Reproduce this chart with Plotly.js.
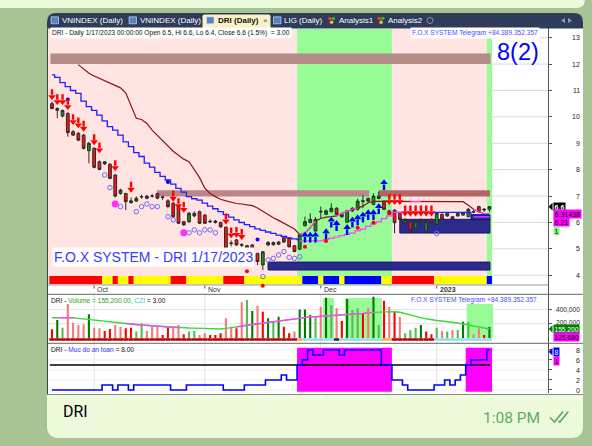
<!DOCTYPE html>
<html>
<head>
<meta charset="utf-8">
<script src="https://cdn.plot.ly/plotly-3.0.1.min.js"></script>
<style>
html,body{margin:0;padding:0;overflow:hidden;background:#a9c494;}
#chart{width:592px;height:446px;}
</style>
</head>
<body>
<div id="chart"></div>
<script>
// ================= DATA =================
const tickerName = 'DRI';
const lastDate = '1/17/2023';
const monthTickBars = [8, 29, 51, 73];
const monthTickLabels = ['Oct', 'Nov', 'Dec', '2023'];
const priceTicks = [4, 5, 6, 7, 8, 9, 10, 11, 12, 13];
const volTicks = [200000, 400000];
const volTickLabels = ['200,000', '400,000'];
const safetyTicks = [0, 2, 4, 6, 8];

const opens = [10.50,10.25,10.03,10.13,9.44,9.38,9.31,8.72,8.81,8.30,
  8.22,8.20,7.80,7.10,7.10,6.75,6.81,6.97,7.00,7.00,
  7.10,6.95,6.82,6.73,6.60,6.03,6.03,6.35,6.41,6.28,
  6.05,6.00,6.00,5.82,5.20,5.34,5.16,5.02,5.15,4.83,
  4.39,5.15,5.16,5.18,5.42,5.40,5.12,4.99,5.88,6.00,
  5.68,6.40,6.31,6.41,6.54,6.31,6.01,6.44,6.50,6.80,
  6.91,6.69,6.91,6.81,6.44,6.47,6.35,5.99,6.03,5.78,
  6.03,5.69,6.12,5.93,6.31,6.25,6.22,6.25,6.28,6.22,
  6.40,6.60,6.47,6.50];
const highs = [10.58,10.36,10.28,10.18,9.50,9.42,9.35,9.05,8.85,8.35,
  8.33,8.25,7.82,7.28,7.12,6.95,6.98,7.05,7.03,7.08,
  7.12,7.02,6.88,6.78,6.65,6.06,6.40,6.42,6.45,6.32,
  6.12,6.10,6.03,5.85,5.32,5.38,5.22,5.15,5.18,4.85,
  4.92,5.30,5.28,5.30,5.46,5.44,5.15,5.56,6.22,6.35,
  6.20,6.60,6.50,6.73,6.58,6.35,6.48,6.58,6.90,7.04,
  6.95,7.10,7.17,6.85,6.48,6.50,6.38,6.15,6.06,6.06,
  6.15,6.06,6.15,6.38,6.34,6.38,6.25,6.38,6.40,6.55,
  6.50,6.63,6.55,6.60];
const lows = [10.28,9.95,9.98,9.25,9.28,9.08,8.76,8.24,8.05,7.98,
  8.18,7.64,6.95,7.05,6.47,6.72,6.78,6.90,6.88,6.95,
  6.88,6.85,6.56,6.18,5.94,5.88,5.98,6.20,5.94,5.95,
  5.98,5.96,5.80,4.99,5.10,5.12,5.08,4.98,4.80,4.39,
  4.20,5.10,5.12,5.14,5.24,5.05,4.87,4.95,5.85,5.97,
  5.65,6.16,6.28,6.38,6.28,6.18,5.98,6.40,6.45,6.54,
  6.78,6.65,6.88,6.47,6.28,5.59,6.08,5.96,5.66,5.75,
  6.00,5.66,5.96,5.90,6.09,6.22,6.09,6.22,6.25,6.20,
  6.35,6.38,6.40,6.40];
const closes = [10.32,10.32,10.24,9.40,9.31,9.12,8.81,9.00,8.09,8.01,
  8.30,7.67,7.00,7.23,6.79,6.82,6.92,6.98,6.92,7.00,
  6.92,6.96,6.60,6.22,5.97,5.91,6.35,6.25,5.97,5.97,
  6.03,6.05,5.84,5.02,5.22,5.15,5.14,5.12,4.83,4.52,
  4.89,5.24,5.24,5.26,5.26,5.08,4.90,5.53,6.03,6.12,
  6.12,6.42,6.44,6.54,6.31,6.22,6.44,6.54,6.81,6.82,
  6.81,7.00,7.00,6.50,6.31,5.99,6.12,6.12,5.69,6.03,
  6.12,6.03,5.99,6.35,6.12,6.35,6.12,6.35,6.38,6.50,
  6.40,6.41,6.50,6.60];

// trailing resistance (blue staircase)
const blueStep = [11.59,11.50,11.30,11.15,11.00,10.89,10.60,10.39,10.25,10.07,
  9.85,9.63,9.50,9.31,9.05,8.87,8.65,8.50,8.25,8.10,
  7.90,7.75,7.61,7.45,7.29,7.15,6.98,6.90,6.85,6.73,
  6.62,6.52,6.41,6.30,6.20,6.10,6.00,5.92,5.84,5.76,
  5.70,5.64,5.59,5.52,5.47,5.42,5.38,5.35,null,null,
  null,null,null,null,null,null,null,null,null,null,
  null,null,null,null,null,6.38,6.38,6.38,6.38,6.38,
  6.38,6.38,6.38,6.38,6.38,6.38,6.38,6.38,6.38,6.38,
  6.30,6.30,6.30,6.30];
// dark red moving line
const upperMA = [null,null,null,null,null,11.98,11.80,11.65,11.55,11.46,
  11.35,11.27,11.20,11.10,10.90,10.40,9.95,9.90,9.75,9.50,
  9.30,9.06,8.90,8.70,8.55,8.40,8.30,8.00,7.70,7.30,
  7.10,6.98,6.88,6.82,6.76,6.72,6.70,6.68,6.64,6.55,
  6.42,6.30,6.18,6.08,5.98,5.88,5.75,5.55,5.60,5.80,
  6.05,6.15,6.20,6.22,6.25,6.35,6.42,6.50,6.55,6.62,
  6.75,6.80,6.80,6.80,6.79,6.79,6.79,6.79,6.79,6.79,
  6.79,6.79,6.79,6.79,6.79,6.79,6.79,6.79,6.79,6.65,
  6.50,6.40,6.33,6.31438];
const upperMaMagentaRuns = [[47, 50], [54, 58], [68, 70], [80, 83]];
// magenta support line
const supportBars = [47,48,49,50,51,52,53,54,55,56,57,58,59,60,61,62,63,64,65,66,67,68,69,70,71,72];
const supportVals = [5.30,5.30,5.30,5.30,5.30,5.35,5.40,5.45,5.50,5.55,5.60,5.68,5.75,5.85,5.95,6.02,6.15,6.25,6.38,6.38,6.38,6.38,6.38,6.38,6.38,6.38];
const magLowBars = [80, 81, 82, 83];
const magLowVals = [6.21, 6.21, 6.21, 6.21];

// markers
const sarBars = [10,11,13,16,17,18,19,20,22,23,26,27,28,29,30,31,34,35,36,37,38,40,41,42,43,44,45,46,47,73];
const sarVals = [7.80,7.32,6.60,6.41,6.60,6.70,6.60,6.60,6.22,6.10,5.61,5.72,5.61,5.72,5.72,5.61,4.95,4.86,4.75,4.63,4.52,3.95,4.58,4.64,4.77,4.90,4.68,4.64,4.70,5.58];
const redDotBars = [37, 40, 48, 52, 58, 61, 64];
const redDotVals = [4.15, 3.60, 5.08, 5.30, 5.80, 5.99, 6.37];
const blueDotBars = [3, 22, 39];
const blueDotVals = [10.66, 7.53, 5.36];
const magDotBars = [12, 25];
const magDotVals = [6.70, 5.61];
const sellBars = [0,1,2,3,4,5,6,8,9,12,15,23,24,25,33,34,35,36,64,65,66,67,68,69,70,71,72];
const sellVals = [10.83,10.64,10.64,10.45,9.88,9.76,9.63,9.12,8.81,8.14,7.32,6.98,6.70,6.56,6.12,5.59,5.61,5.53,6.85,6.85,6.85,6.42,6.42,6.42,6.42,6.42,6.42];
const buyBars = [48,49,50,52,53,54,56,57,58,59,60,61,62,63];
const buyVals = [5.46,5.46,5.46,5.59,6.03,5.90,5.75,6.03,6.12,6.22,6.31,6.31,6.54,7.45];

// zones
const resZoneX0 = [-0.3, 19.9, 62.0];
const resZoneX1 = [83.2, 60.2, 83.1];
const resZoneLo = [12.0, 6.98, 6.98];
const resZoneHi = [12.4, 7.22, 7.22];
const supZoneX0 = [41.0, 66.0, 79.5];
const supZoneX1 = [83.1, 83.1, 83.1];
const supZoneLo = [4.20, 5.60, 6.10];
const supZoneHi = [4.50, 6.12, 6.28];

// per-bar state codes
const trendCodes = ('PPPPPPPPPP' + 'PPPPPPPPPP' + 'PPPPPPPPPP' + 'PPPPPPPPPP' +
  'PPPPPPPGGG' + 'GGGGGGGGGG' + 'GGGGGPPPPP' + 'PPPPPPPPPP' + 'PPPG').split('');
const stripCodes = ('RRRRRRRRRR' + 'YYRYYRYYYY' + 'YYYRRRYYYY' + 'YYYRRRRYYY' +
  'YYYYYYYYBB' + 'BYBBBYBBBB' + 'BBBYYRRRRR' + 'RRRYYYYYYY' + 'YYYB').split('');

// volume pane
const volumes = [121000,252000,144000,476000,214000,182000,191000,331000,144000,135000,
  98000,126000,182000,158000,135000,144000,89000,205000,98000,182000,
  158000,42000,158000,158000,182000,51000,89000,98000,42000,65000,
  42000,42000,65000,275000,158000,135000,499000,531000,378000,452000,
  368000,275000,228000,298000,158000,65000,89000,400000,400000,320000,
  298000,438000,564000,462000,415000,238000,545000,392000,415000,345000,
  415000,578000,182000,522000,438000,378000,298000,65000,112000,144000,
  182000,89000,51000,144000,98000,89000,112000,112000,228000,228000,
  51000,135000,42000,155200];
const volColorCodes = ('RGgrrrrGrr' + 'RRrrRRggrr' + 'rRRrrRggrr' + 'RRRrrRrgGr' +
  'RGgGRRrGGG' + 'grGgrRGggR' + 'rGgRrRrggg' + 'GRRgrgrgGg' + 'rrRG').split('');
const volMA = [284000,285000,286000,290000,284000,275000,268000,261000,250000,240000,
  232000,225000,219000,210000,202000,195000,185000,180000,175000,170000,
  165000,158000,152000,149000,146000,143000,140000,138000,136000,135000,
  132000,128000,126000,135000,145000,155000,170000,182000,192000,200000,
  210000,220000,228000,238000,248000,258000,268000,280000,290000,295000,
  298000,302000,306000,312000,318000,324000,330000,335000,340000,345000,
  352000,360000,362000,365000,368000,368000,360000,340000,320000,298000,
  285000,270000,255000,245000,238000,230000,222000,210000,195000,180000,
  165000,150000,138000,125680];
const volMaMagentaRuns = [[1, 4], [14, 24], [35, 61]];
const volBaseCodes = ('DDDDDDDDDD' + 'DDDDDDDDDD' + 'DDDDDDDDDD' + 'DDDDDDDDDD' +
  'DDDDDDDOCC' + 'CCCCKCCCCC' + 'CCCOODDDDD' + 'DDDCCCCCCC' + 'CCCC').split('');
const volZoneX0 = [51.4, 55.6, 78.7];
const volZoneX1 = [53.5, 62.6, 83.7];
const volZoneTop = [560000, 560000, 475000];
const czi = 3.00;

// safety pane ("Muc do an toan")
const safety = [0,0,0,0,0,0,0,0,0,0,
  1,1,0,1,1,0,1,1,1,1,
  1,1,1,0,0,0,1,1,1,1,
  1,1,1,0,0,0,0,1,1,1,
  1,2,2,2,3,2,2,5,6,8,
  7,7,8,8,8,7,8,8,8,8,
  8,8,8,5,5,2,2,1,0,0,
  0,0,0,1,1,2,1,2,3,5,
  6,6,6,8];
const safetyThreshold = 5;
const flagValue = 1;
const signalCount = '8(2)';

// ================= GEOMETRY / STYLE =================
const N = closes.length;
const bars = Array.from({length: N}, (_, i) => i);
const FONT = 'Liberation Sans, Arial, sans-serif';
const PX = x => (x - 48) / 500;
const PY = y => (393 - y) / 365;
const pt = (x, y) => PX(x).toFixed(5) + ',' + PY(y).toFixed(5);
function rrPath(x0, y0, x1, y1, r) {
  const [a, b, c, d] = r;
  return 'M' + pt(x0 + a, y0) + ' L' + pt(x1 - b, y0) + ' Q' + pt(x1, y0) + ' ' + pt(x1, y0 + b) +
    ' L' + pt(x1, y1 - c) + ' Q' + pt(x1, y1) + ' ' + pt(x1 - c, y1) +
    ' L' + pt(x0 + d, y1) + ' Q' + pt(x0, y1) + ' ' + pt(x0, y1 - d) +
    ' L' + pt(x0, y0 + a) + ' Q' + pt(x0, y0) + ' ' + pt(x0 + a, y0) + ' Z';
}
function polyPath(points, close) {
  return points.map((p, i) => (i ? 'L' : 'M') + pt(p[0], p[1])).join(' ') + (close ? ' Z' : '');
}
function runs(codes) {
  const out = []; let s = 0;
  for (let i = 1; i <= codes.length; i++) {
    if (i === codes.length || codes[i] !== codes[s]) { out.push({c: codes[s], a: s, b: i - 1}); s = i; }
  }
  return out;
}
const MAIN_RANGE = [3.280, 13.367];
const VOL_RANGE = [-74126, 611189];
const SAFE_RANGE = [-0.6, 9.34];
const yMain = p => 28 + (MAIN_RANGE[1] - p) * (266.3 / (MAIN_RANGE[1] - MAIN_RANGE[0]));
const yVol = v => 294.3 + (VOL_RANGE[1] - v) * (49 / (VOL_RANGE[1] - VOL_RANGE[0]));
const ySafe = v => 343.3 + (SAFE_RANGE[1] - v) * (49.7 / (SAFE_RANGE[1] - SAFE_RANGE[0]));
const PX_PRICE = (MAIN_RANGE[1] - MAIN_RANGE[0]) / 266.3; // price per pixel

// ================= SHAPES =================
const shapes = [];
const ppath = (path, fill, line, layer) => shapes.push({type: 'path', xref: 'paper', yref: 'paper', path,
  fillcolor: fill, line: line || {width: 0}, layer: layer || 'below'});
const prect = (x0, y0, x1, y1, fill, line, layer) => shapes.push({type: 'rect', xref: 'paper', yref: 'paper',
  x0: PX(x0), x1: PX(x1), y0: PY(y1), y1: PY(y0), fillcolor: fill, line: line || {width: 0}, layer: layer || 'below'});
const pline = (x0, y0, x1, y1, color, w, layer) => shapes.push({type: 'line', xref: 'paper', yref: 'paper',
  x0: PX(x0), x1: PX(x1), y0: PY(y0), y1: PY(y1), line: {color, width: w}, layer: layer || 'below'});

// telegram chrome
ppath(rrPath(-20, -20, 585, 8, [0, 0, 9, 9]), '#eefadc');
ppath(rrPath(47, 13, 583, 438, [10, 10, 12, 12]), '#eefadc');
prect(47, 28, 583, 395, '#ffffff');
ppath(rrPath(47, 13, 583, 28.5, [9, 9, 0, 0]), '#2e3c5a');
ppath(rrPath(202.5, 14.5, 270.5, 28.5, [2, 2, 0, 0]), '#fbf1c6');
// tab icons
[51, 129, 206.5, 273.5].forEach(x => prect(x, 16.8, x + 7.5, 23.8, '#4f86c6', {color: '#dfe7f2', width: 0.6}));
[328, 377.5].forEach(x => {
  shapes.push({type: 'circle', xref: 'paper', yref: 'paper', x0: PX(x), x1: PX(x + 3.6), y0: PY(20.3), y1: PY(16.7), fillcolor: '#e83a3a', line: {width: 0}, layer: 'below'});
  shapes.push({type: 'circle', xref: 'paper', yref: 'paper', x0: PX(x + 3.6), x1: PX(x + 7.2), y0: PY(20.3), y1: PY(16.7), fillcolor: '#35b035', line: {width: 0}, layer: 'below'});
  shapes.push({type: 'circle', xref: 'paper', yref: 'paper', x0: PX(x + 1.8), x1: PX(x + 5.4), y0: PY(24), y1: PY(20.4), fillcolor: '#f0c020', line: {width: 0}, layer: 'below'});
});
shapes.push({type: 'circle', xref: 'paper', yref: 'paper', x0: PX(427), x1: PX(433), y0: PY(23.5), y1: PY(17.5), fillcolor: 'rgba(0,0,0,0)', line: {color: '#8795ad', width: 1}, layer: 'below'});
ppath(polyPath([[561, 20.5], [565, 18], [565, 23]], true), '#8f9bb0');
ppath(polyPath([[572, 20.5], [568, 18], [568, 23]], true), '#8f9bb0');

// month grid + ticks (lower layer)
monthTickBars.forEach(b => {
  shapes.push({type: 'line', xref: 'x', yref: 'paper', x0: b, x1: b, y0: 0, y1: PY(294.3), line: {color: '#e3e3e3', width: 1}, layer: 'below'});
  shapes.push({type: 'line', xref: 'x', yref: 'paper', x0: b, x1: b, y0: PY(285.5), y1: PY(288.5), line: {color: '#555', width: 1}, layer: 'below'});
});

// main pane data shapes
const dshape = (yref, x0, x1, y0, y1, fill, line) => shapes.push({type: 'rect', xref: 'x', yref, x0, x1, y0, y1,
  fillcolor: fill, line: line || {width: 0}, layer: 'below'});
const dline = (yref, x0, x1, y0, y1, color, w) => shapes.push({type: 'line', xref: 'x', yref, x0, x1, y0, y1,
  line: {color, width: w}, layer: 'below'});
priceTicks.forEach(p => dline('y', -1, 95, p, p, '#dcdcdc', 1));
const bgColor = {P: '#ffe4e1', G: '#98fb98'};
runs(trendCodes).forEach(r => dshape('y', r.a === 0 ? -1 : r.a - 0.5, r.b + 0.5, 3.633, 13.33, bgColor[r.c]));
const resColors = ['#b48c88', '#b98787', '#b46464'];
resZoneX0.forEach((x0, i) => dshape('y', x0, resZoneX1[i], resZoneLo[i], resZoneHi[i], resColors[i]));
supZoneX0.forEach((x0, i) => dshape('y', x0, supZoneX1[i], supZoneLo[i], supZoneHi[i], '#2b2b8f', {color: '#161660', width: 1}));
const stripColor = {R: '#ff0000', Y: '#ffff00', B: '#0000ff'};
runs(stripCodes).forEach(r => dshape('y', r.a - 0.5, r.b + 0.5, 3.67, 3.97, stripColor[r.c]));
dline('y', -1, 95, 3.633, 3.633, '#9a9a9a', 1);

// volume pane shapes
volTicks.forEach(v => dline('y2', -1, 95, v, v, '#e3e3e3', 1));
volZoneX0.forEach((x0, i) => dshape('y2', x0, volZoneX1[i], 0, volZoneTop[i], '#98fb98'));

// safety pane shapes
safetyTicks.forEach(v => dline('y3', -1, 95, v, v, '#ededed', 1));
runs(safety.map(v => v >= safetyThreshold ? 'S' : 'n')).filter(r => r.c === 'S')
  .forEach(r => dshape('y3', r.a - 0.5, r.b + 0.5, -0.35, 8.45, '#ff00ff'));

// frame lines (above)
pline(47.5, 28.5, 47.5, 394.5, '#444', 1, 'above');
pline(47.5, 294.3, 583, 294.3, '#666', 1, 'above');
pline(47.5, 343.3, 583, 343.3, '#666', 1, 'above');
pline(47.5, 394.5, 583, 394.5, '#888', 1, 'above');
// tag pointers
ppath(polyPath([[548.5, yMain(closes[N - 1])], [552.5, yMain(closes[N - 1]) - 3.8], [552.5, yMain(closes[N - 1]) + 3.8]], true), '#000000', null, 'above');
ppath(polyPath([[548.5, 329], [552.5, 325.2], [552.5, 332.8]], true), '#008000', null, 'above');
ppath(polyPath([[548.5, 351.7], [552.5, 347.9], [552.5, 355.5]], true), '#0000ff', null, 'above');
// double check marks
ppath(polyPath([[550, 417.5], [554.5, 422], [563, 411.5]], false), 'rgba(0,0,0,0)', {color: '#5aa95a', width: 1.6});
ppath(polyPath([[558.5, 420.8], [559.8, 422], [568.3, 411.5]], false), 'rgba(0,0,0,0)', {color: '#5aa95a', width: 1.6});

// ================= TRACES =================
const traces = [];
const line = (x, y, color, w, yaxis, shape) => traces.push({type: 'scatter', mode: 'lines', x, y,
  line: {color, width: w, shape: shape || 'linear'}, yaxis: yaxis || 'y', hoverinfo: 'skip', connectgaps: false});
const marks = (x, y, symbol, size, color, lw, yaxis) => traces.push({type: 'scatter', mode: 'markers', x, y,
  marker: {symbol, size, color, line: {width: lw || 0, color}}, yaxis: yaxis || 'y', hoverinfo: 'skip'});

line(bars, upperMA, '#8b1515', 1.2);
upperMaMagentaRuns.forEach(([a, b]) => {
  const xs = [], ys = [];
  for (let i = a; i <= b; i++) { xs.push(i); ys.push(upperMA[i]); }
  line(xs, ys, '#ff40ff', 1.2);
});
line(bars, blueStep, '#1f1fff', 1.3, 'y', 'hvh');
line(supportBars, supportVals, '#ff40ff', 1.2, 'y', 'hvh');
line(magLowBars, magLowVals, '#ff40ff', 1.2);

traces.push({type: 'candlestick', x: bars, open: opens, high: highs, low: lows, close: closes,
  increasing: {line: {color: '#2a2a2a', width: 1}, fillcolor: '#139413'},
  decreasing: {line: {color: '#2a2a2a', width: 1}, fillcolor: '#ff1010'},
  whiskerwidth: 0, hoverinfo: 'skip', yaxis: 'y'});

marks(sarBars, sarVals, 'circle-open', 4.5, '#6b6bff', 1);
marks(redDotBars, redDotVals, 'circle', 4, '#ff0000');
marks(blueDotBars, blueDotVals, 'circle', 4, '#0000ff');
marks(magDotBars, magDotVals, 'circle', 7, '#ff30ff');
// arrows: head + stem
marks(sellBars, sellVals.map(v => v - 1.8 * PX_PRICE), 'triangle-down', 6.5, '#ff0000');
marks(sellBars, sellVals.map(v => v + 3 * PX_PRICE), 'line-ns', 4, '#ff0000', 2.4);
marks(buyBars, buyVals.map(v => v + 1.8 * PX_PRICE), 'triangle-up', 6.5, '#0000ff');
marks(buyBars, buyVals.map(v => v - 3 * PX_PRICE), 'line-ns', 4, '#0000ff', 2.4);

// volume pane
const baseColor = {D: '#b00000', O: '#ffa060', C: '#88e0e0', K: '#222222'};
traces.push({type: 'bar', x: bars, y: bars.map(() => 36000), base: -40000, width: 1,
  marker: {color: volBaseCodes.map(c => baseColor[c]), line: {width: 0}}, yaxis: 'y2', hoverinfo: 'skip'});
const volColor = {R: '#ff0000', r: '#f47a7a', G: '#007a00', g: '#55bb55'};
traces.push({type: 'bar', x: bars, y: volumes, width: 0.4,
  marker: {color: volColorCodes.map(c => volColor[c]), line: {width: 0}}, yaxis: 'y2', hoverinfo: 'skip'});
line(bars, volMA, '#3ad83a', 1.4, 'y2');
volMaMagentaRuns.forEach(([a, b]) => {
  const xs = [], ys = [];
  for (let i = a; i <= b; i++) { xs.push(i); ys.push(volMA[i]); }
  line(xs, ys, '#ff44ff', 1.4, 'y2');
});

// safety pane
line([-0.4, N - 0.9], [safetyThreshold, safetyThreshold], '#000000', 1.3, 'y3');
line(bars, safety, '#0000ff', 1.6, 'y3', 'hvh');

// ================= ANNOTATIONS =================
const annotations = [];
function label(x, y, text, size, color, opt) {
  opt = opt || {};
  annotations.push({xref: 'paper', yref: 'paper', x: PX(x), y: PY(y), text, showarrow: false,
    xanchor: opt.xa || 'left', yanchor: 'middle', align: opt.xa || 'left',
    font: {family: opt.family || FONT, size, color},
    bgcolor: opt.bg || 'rgba(0,0,0,0)', borderpad: opt.pad === undefined ? 0 : opt.pad});
}
// tabs
label(60.5, 20.8, 'VNINDEX (Daily)', 8, '#ffffff');
label(138.5, 20.8, 'VNINDEX (Daily)', 8, '#ffffff');
label(216.5, 20.8, '<b>DRI (Daily)</b>', 8, '#111111');
label(261.8, 20.6, '×', 8, '#555555');
label(282.5, 20.8, 'LIG (Daily)', 8, '#ffffff');
label(338, 20.8, 'Analysis1', 8, '#ffffff');
label(387, 20.8, 'Analysis2', 8, '#ffffff');

// main pane texts
const pct = ((closes[N - 1] / closes[N - 2] - 1) * 100).toFixed(1);
label(50, 32.8, `${tickerName} - Daily ${lastDate} 00:00:00 Open ${opens[N - 1]}, Hi ${highs[N - 1]}, Lo ${lows[N - 1]}, Close ${closes[N - 1]} (${pct}%)\u00a0\u00a0= ${czi.toFixed(2)}`,
  6.6, '#111111', {bg: '#ffffff', pad: 1});
label(410, 32.8, 'F.O.X SYSTEM Telegram +84.389.352.357', 6.6, '#4b4bff', {bg: '#ffffff', pad: 1});
label(517.5, 51.5, signalCount, 23.5, '#0000ff', {xa: 'center'});
label(52, 256.7, `F.O.X SYSTEM - ${tickerName} ${lastDate}`, 14, '#3a3aff', {bg: '#ffffff', pad: 1});
monthTickBars.forEach((b, i) => annotations.push({xref: 'x', yref: 'paper', x: b, y: PY(289.8),
  text: i === 3 ? '<b>' + monthTickLabels[i] + '</b>' : monthTickLabels[i], showarrow: false,
  xanchor: 'left', yanchor: 'middle', xshift: 1, font: {family: FONT, size: 7, color: '#333'}}));

// right axis labels
priceTicks.forEach(p => label(580.5, yMain(p), String(p), 7, '#222', {xa: 'right'}));
volTicks.forEach((v, i) => label(580.5, yVol(v) - (i === 0 ? 1.2 : 0), volTickLabels[i], 6.6, '#222', {xa: 'right'}));
safetyTicks.forEach(v => label(580.5, ySafe(v), String(v), 7, '#222', {xa: 'right'}));

// tags
label(552.5, yMain(closes[N - 1]), '<b>' + closes[N - 1] + '</b>', 7, '#ffffff', {bg: '#000000', pad: 0.6});
label(553, 214.5, String(upperMA[N - 1]), 7, '#000000', {bg: '#ff00ff', pad: 0.6});
label(553, 222.4, String(magLowVals[magLowVals.length - 1]), 7, '#000000', {bg: '#ff00ff', pad: 0.6});
label(553, 230.6, String(flagValue), 7, '#000000', {bg: '#90ee90', pad: 0.6});
label(552.5, 329, volumes[N - 1].toLocaleString('en-US'), 6.6, '#ffffff', {bg: '#008000', pad: 0.5});
label(553, 337.3, volMA[N - 1].toLocaleString('en-US'), 6.6, '#000000', {bg: '#ff00ff', pad: 0.5});
label(552.5, 351.7, String(safety[N - 1]), 7, '#ffffff', {bg: '#0000ff', pad: 0.6});
label(553, 361, String(flagValue), 7, '#000000', {bg: '#ff00ff', pad: 0.6});

// volume pane texts
label(50, 300, `${tickerName} - <span style="color:#1aa31a">Volume = ${volumes[N - 1].toLocaleString('en-US')}.00,</span> <span style="color:#33c4cc">CZI</span> = ${czi.toFixed(2)}`, 6.6, '#111111');
label(410, 300, 'F.O.X SYSTEM Telegram +84.389.352.357', 6.6, '#4b4bff');
// safety pane text
label(50, 349.5, `${tickerName} - <span style="color:#3333ff">Muc do an toan</span> = ${safety[N - 1].toFixed(2)}`, 6.6, '#111111');

// telegram caption
label(62, 412, 'DRI', 16, '#000000', {family: 'Roboto, sans-serif'});
label(541, 418, '1:08 PM', 15.5, '#5fae5f', {xa: 'right', family: 'Roboto, sans-serif'});

// ================= LAYOUT =================
const yBase = {side: 'right', anchor: 'x', showgrid: false, zeroline: false, showline: true, linecolor: '#555',
  linewidth: 1, ticks: 'outside', ticklen: 3, tickcolor: '#555', showticklabels: false, fixedrange: true};
const layout = {
  width: 592, height: 446,
  margin: {l: 48, r: 44, t: 28, b: 53, pad: 0},
  paper_bgcolor: '#a9c494', plot_bgcolor: 'rgba(0,0,0,0)',
  showlegend: false, barmode: 'overlay', boxgap: 0.25, hovermode: false,
  font: {family: FONT, size: 7, color: '#222'},
  xaxis: {range: [-0.759, 94.117], visible: false, rangeslider: {visible: false}, fixedrange: true},
  yaxis: Object.assign({}, yBase, {domain: [0.2704, 1], range: MAIN_RANGE, tickvals: priceTicks}),
  yaxis2: Object.assign({}, yBase, {domain: [0.1362, 0.2704], range: VOL_RANGE, tickvals: volTicks}),
  yaxis3: Object.assign({}, yBase, {domain: [0, 0.1362], range: SAFE_RANGE, tickvals: safetyTicks}),
  shapes, annotations
};
Plotly.newPlot('chart', traces, layout, {staticPlot: true, displayModeBar: false});
</script>
</body>
</html>
